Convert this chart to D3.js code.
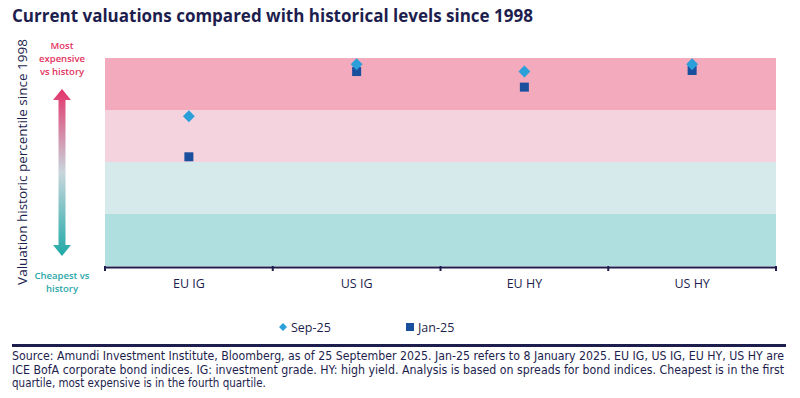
<!DOCTYPE html>
<html>
<head>
<meta charset="utf-8">
<script src="https://cdn.jsdelivr.net/npm/d3@7"></script>
<style>
  body { margin: 0; background: #fff; }
  svg { display: block; font-family: "Open Sans", sans-serif; }
</style>
</head>
<body>
<svg id="chart" width="800" height="398"></svg>
<script>
// data (percentile 0-100)
const categories = ["EU IG", "US IG", "EU HY", "US HY"];
const sep25 = [72, 97, 93.5, 97];
const jan25 = [52.5, 93.5, 86, 94];
const bandStops = [0, 25, 50, 75, 100];
const bandColors = ["#b0dfe0", "#d6eaec", "#f5d3de", "#f2aabc"];
const seriesNames = ["Sep-25", "Jan-25"];

const svg = d3.select("#chart");
const margin = { top: 58, right: 24, bottom: 132, left: 105 };
const width = 800 - margin.left - margin.right,
      height = 398 - margin.top - margin.bottom;

const x = d3.scaleBand().domain(categories).range([0, width]);
const y = d3.scaleLinear().domain([0, 100]).range([height, 0]);

// title
svg.append("text")
    .attr("x", 12).attr("y", 22)
    .attr("fill", "#1d1e4e")
    .attr("font-size", 17).attr("font-weight", 700)
    .text("Current valuations compared with historical levels since 1998");

const g = svg.append("g").attr("transform", `translate(${margin.left},${margin.top})`);

// quartile bands
g.selectAll("rect.band")
    .data(d3.range(4))
    .join("rect")
    .attr("class", "band")
    .attr("x", 0).attr("width", width)
    .attr("y", i => y(bandStops[i + 1]))
    .attr("height", i => y(bandStops[i]) - y(bandStops[i + 1]))
    .attr("fill", i => bandColors[i]);

// x axis
const xAxis = g.append("g")
    .attr("transform", `translate(0,${height + 1})`)
    .call(d3.axisBottom(x).tickSize(0).tickPadding(12));
xAxis.select(".domain").attr("stroke", "#1d1e4e").attr("stroke-width", 2);
xAxis.selectAll("text").attr("font-size", 12.5).attr("fill", "#1d1e4e")
    .attr("font-family", "Open Sans, sans-serif");
// boundary ticks between categories
g.append("g").selectAll("line")
    .data(d3.range(categories.length + 1))
    .join("line")
    .attr("x1", i => i * x.bandwidth()).attr("x2", i => i * x.bandwidth())
    .attr("y1", height).attr("y2", height + 5)
    .attr("stroke", "#1d1e4e").attr("stroke-width", 2);

// Jan-25 squares
const sq = 9;
g.selectAll("rect.jan")
    .data(jan25)
    .join("rect")
    .attr("class", "jan")
    .attr("x", (d, i) => x(categories[i]) + x.bandwidth() / 2 - sq / 2)
    .attr("y", d => y(d) - sq / 2)
    .attr("width", sq).attr("height", sq)
    .attr("fill", "#1a4f9e");

// Sep-25 diamonds
const diamond = d3.symbol().type(d3.symbolDiamond2).size(90);
g.selectAll("path.sep")
    .data(sep25)
    .join("path")
    .attr("class", "sep")
    .attr("transform", (d, i) => `translate(${x(categories[i]) + x.bandwidth() / 2},${y(d)})`)
    .attr("d", diamond)
    .attr("fill", "#2a9fd9");

// y axis title
svg.append("text")
    .attr("transform", "translate(27,162) rotate(-90)")
    .attr("text-anchor", "middle")
    .attr("font-size", 13.5).attr("fill", "#1d1e4e")
    .text("Valuation historic percentile since 1998");

// expensive / cheap labels
const ax = 62;
svg.append("text").attr("text-anchor", "middle").attr("font-size", 9.5).attr("font-weight", 600)
    .attr("fill", "#e2335f")
    .selectAll("tspan").data(["Most", "expensive", "vs history"]).join("tspan")
    .attr("x", ax).attr("y", (d, i) => 49 + i * 13).text(d => d);
svg.append("text").attr("text-anchor", "middle").attr("font-size", 9.5).attr("font-weight", 600)
    .attr("fill", "#2aa7a8")
    .selectAll("tspan").data(["Cheapest vs", "history"]).join("tspan")
    .attr("x", ax).attr("y", (d, i) => 279 + i * 13).text(d => d);

// gradient arrow
const defs = svg.append("defs");
const grad = defs.append("linearGradient").attr("id", "arrowGrad")
    .attr("x1", 0).attr("y1", 0).attr("x2", 0).attr("y2", 1);
grad.append("stop").attr("offset", "0%").attr("stop-color", "#e3336a");
grad.append("stop").attr("offset", "50%").attr("stop-color", "#c8d6dc");
grad.append("stop").attr("offset", "100%").attr("stop-color", "#1fa9a6");
const arrTop = 89, arrBot = 256, hw = 9, sw = 3.5, hh = 11;
svg.append("path")
    .attr("d", d3.line()([
        [ax, arrTop], [ax + hw, arrTop + hh], [ax + sw, arrTop + hh], [ax + sw, arrBot - hh],
        [ax + hw, arrBot - hh], [ax, arrBot], [ax - hw, arrBot - hh], [ax - sw, arrBot - hh],
        [ax - sw, arrTop + hh], [ax - hw, arrTop + hh]
    ]) + "Z")
    .attr("fill", "url(#arrowGrad)");

// legend
const leg = svg.append("g").attr("transform", "translate(0,327)");
leg.append("path").attr("transform", "translate(283,0)")
    .attr("d", d3.symbol().type(d3.symbolDiamond2).size(40)).attr("fill", "#2a9fd9");
leg.append("text").attr("x", 291).attr("y", 5).attr("font-size", 12.5).attr("fill", "#1d1e4e").text(seriesNames[0]);
leg.append("rect").attr("x", 406).attr("y", -4).attr("width", 8).attr("height", 8).attr("fill", "#1a4f9e");
leg.append("text").attr("x", 418).attr("y", 5).attr("font-size", 12.5).attr("fill", "#1d1e4e").text(seriesNames[1]);

// footer
svg.append("rect").attr("x", 12).attr("y", 344).attr("width", 774).attr("height", 3).attr("fill", "#1d1e4e");
const notes = [
  "Source: Amundi Investment Institute, Bloomberg, as of 25 September 2025. Jan-25 refers to 8 January 2025.  EU IG, US IG, EU HY, US HY are",
  "ICE BofA corporate bond indices. IG: investment grade. HY: high yield. Analysis is based on spreads for bond indices. Cheapest is in the first",
  "quartile, most expensive is in the fourth quartile."
];
svg.append("g").selectAll("text").data(notes).join("text")
    .attr("x", 12).attr("y", (d, i) => 360 + i * 13.5)
    .attr("font-family", "'Liberation Sans Narrow', 'DejaVu Sans Condensed', sans-serif")
    .attr("font-size", 11.5).attr("fill", "#1d1e4e")
    .attr("textLength", (d, i) => i < 2 ? 772 : null)
    .attr("lengthAdjust", "spacingAndGlyphs")
    .text(d => d);
</script>
</body>
</html>
